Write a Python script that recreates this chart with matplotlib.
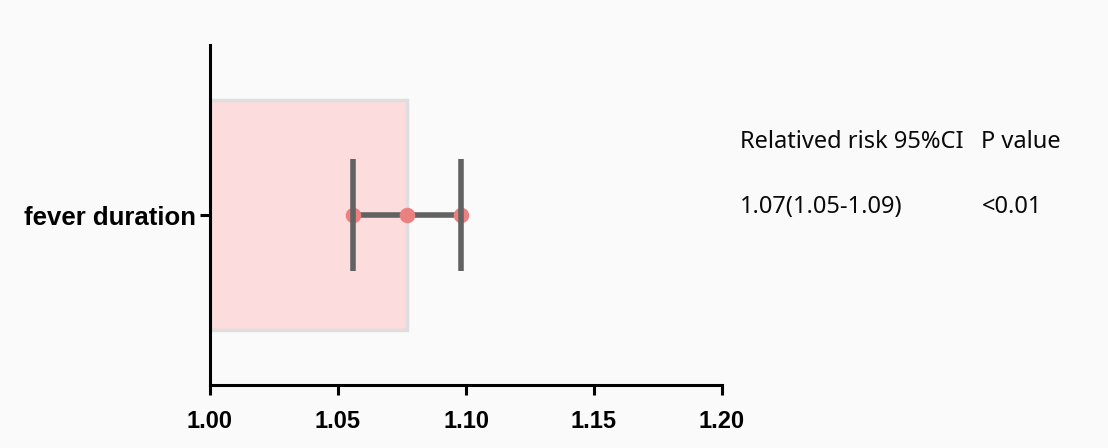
import matplotlib
matplotlib.use("Agg")
import matplotlib.pyplot as plt

categories = ["fever duration"]
rr = [1.077]
ci_low = [1.056]
ci_high = [1.098]
xticks = [1.00, 1.05, 1.10, 1.15, 1.20]
header = ["Relatived risk 95%CI", "P value"]
row_text = ["1.07(1.05-1.09)", "<0.01"]

fig = plt.figure(figsize=(11.08, 4.48), dpi=100)
ax = fig.add_axes([210/1108, 63/448, 512/1108, 340/448])

ypos = list(range(len(categories)))
ax.barh(ypos, [v - 1.0 for v in rr], left=1.0, height=1.353,
        color="#fcdcdc", edgecolor="#dedede", linewidth=2.5, zorder=1)
for y, lo, hi, m in zip(ypos, ci_low, ci_high, rr):
    ax.plot([lo, hi], [y, y], color="#626262", lw=4.0, zorder=2, solid_capstyle="butt")
    ax.scatter([lo, m, hi], [y, y, y], s=125, color="#eb8080", zorder=3, linewidths=0)
    for xc in (lo, hi):
        ax.plot([xc, xc], [y - 0.332, y + 0.332], color="#626262", lw=4.0, zorder=4,
                solid_capstyle="butt")
ax.set_xlim(1.0, 1.2)
ax.set_ylim(-1, 1)
ax.set_xticks(xticks)
ax.set_xticklabels([f"{t:.2f}" for t in xticks])
ax.set_yticks(ypos)
ax.set_yticklabels(categories)
for s in ("top", "right"):
    ax.spines[s].set_visible(False)
for s in ("left", "bottom"):
    ax.spines[s].set_linewidth(2.2)
ax.tick_params(axis="both", width=2.2, length=7, direction="out")
ax.tick_params(axis="x", pad=11)
ax.tick_params(axis="y", pad=3)
for lab in ax.get_xticklabels():
    lab.set_fontfamily("Liberation Sans")
    lab.set_fontweight("bold")
    lab.set_fontsize(17)
for lab in ax.get_yticklabels():
    lab.set_fontfamily("Liberation Sans")
    lab.set_fontweight("bold")
    lab.set_fontsize(18.5)
ax.set_facecolor("none")

fs = 17
kw = dict(fontsize=fs, family="Noto Sans", va="baseline", ha="left", color="#0a0a0a")
fig.text(740/1108, 1 - 148/448, header[0], **kw)
fig.text(981/1108, 1 - 148/448, header[1], **kw)
fig.text(740/1108, 1 - 213/448, row_text[0], **kw)
fig.text(982/1108, 1 - 213/448, row_text[1], **kw)

fig.savefig("out.png", dpi=100, facecolor="#fafafa")
